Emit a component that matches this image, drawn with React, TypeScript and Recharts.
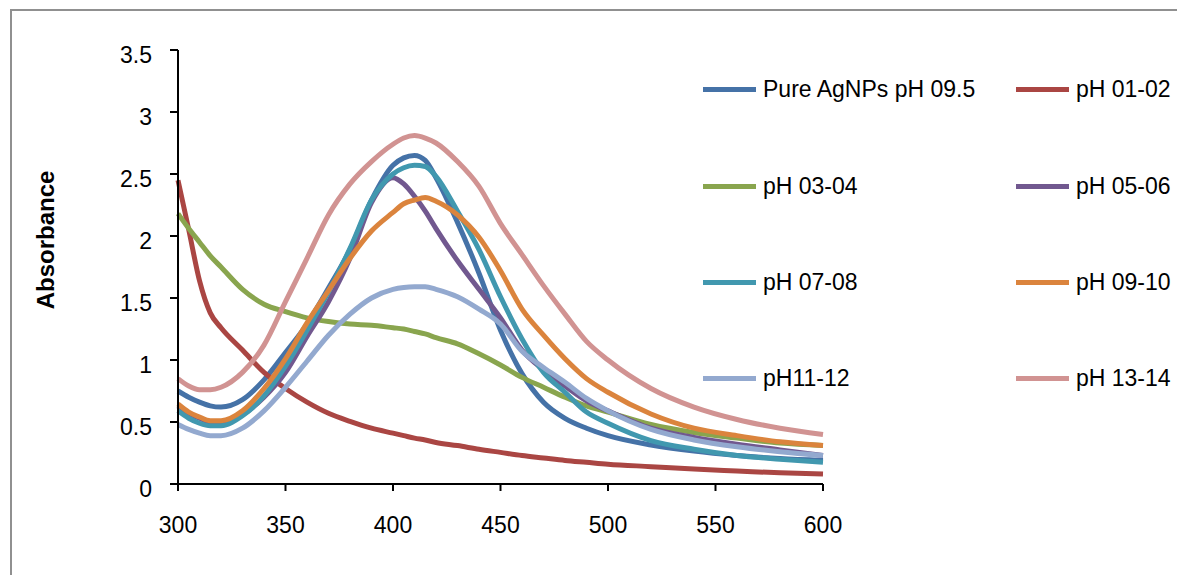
import { LineChart, Line, XAxis, YAxis } from 'recharts';

// wavelength (nm)
const wavelengths = [300, 305, 310, 315, 320, 330, 340, 350, 360, 370, 380, 390, 400, 405, 410, 415, 420, 430, 440, 450, 460, 470, 480, 490, 500, 520, 540, 560, 580, 600];

// absorbance
const pureAgNPs = [0.75, 0.70, 0.66, 0.63, 0.62, 0.68, 0.84, 1.06, 1.29, 1.58, 1.89, 2.29, 2.57, 2.63, 2.65, 2.61, 2.47, 2.11, 1.70, 1.24, 0.89, 0.66, 0.53, 0.45, 0.39, 0.315, 0.265, 0.23, 0.205, 0.19];
const pH0102 = [2.45, 2.05, 1.64, 1.38, 1.26, 1.08, 0.90, 0.77, 0.66, 0.57, 0.505, 0.45, 0.41, 0.39, 0.37, 0.355, 0.335, 0.31, 0.28, 0.255, 0.23, 0.21, 0.19, 0.175, 0.16, 0.14, 0.12, 0.105, 0.09, 0.08];
const pH0304 = [2.18, 2.06, 1.95, 1.84, 1.75, 1.57, 1.45, 1.39, 1.34, 1.31, 1.29, 1.28, 1.26, 1.25, 1.23, 1.21, 1.18, 1.13, 1.05, 0.96, 0.86, 0.78, 0.70, 0.63, 0.58, 0.48, 0.415, 0.37, 0.33, 0.31];
const pH0506 = [0.63, 0.57, 0.53, 0.50, 0.50, 0.56, 0.70, 0.90, 1.19, 1.47, 1.82, 2.27, 2.47, 2.42, 2.32, 2.20, 2.06, 1.80, 1.57, 1.34, 1.08, 0.92, 0.79, 0.67, 0.59, 0.45, 0.375, 0.32, 0.275, 0.23];
const pH0708 = [0.59, 0.53, 0.49, 0.47, 0.47, 0.55, 0.71, 0.95, 1.24, 1.55, 1.90, 2.29, 2.50, 2.55, 2.57, 2.56, 2.48, 2.20, 1.89, 1.51, 1.17, 0.90, 0.74, 0.58, 0.49, 0.35, 0.28, 0.23, 0.20, 0.175];
const pH0910 = [0.645, 0.58, 0.54, 0.51, 0.51, 0.59, 0.77, 1.01, 1.30, 1.56, 1.82, 2.04, 2.19, 2.26, 2.29, 2.31, 2.28, 2.17, 1.99, 1.72, 1.41, 1.20, 1.01, 0.85, 0.74, 0.565, 0.45, 0.39, 0.34, 0.31];
const pH1112 = [0.48, 0.44, 0.41, 0.39, 0.39, 0.45, 0.59, 0.78, 0.99, 1.20, 1.37, 1.50, 1.57, 1.585, 1.59, 1.59, 1.57, 1.51, 1.41, 1.29, 1.07, 0.94, 0.82, 0.69, 0.59, 0.44, 0.355, 0.30, 0.26, 0.23];
const pH1314 = [0.85, 0.79, 0.76, 0.76, 0.78, 0.90, 1.12, 1.47, 1.82, 2.17, 2.42, 2.60, 2.74, 2.79, 2.81, 2.79, 2.75, 2.60, 2.40, 2.10, 1.85, 1.60, 1.37, 1.15, 1.00, 0.77, 0.62, 0.52, 0.45, 0.40];

const xTicks = [300, 350, 400, 450, 500, 550, 600];
const yTicks = [0, 0.5, 1, 1.5, 2, 2.5, 3, 3.5];

const series = [
  { key: 'pure', name: 'Pure AgNPs pH 09.5', color: '#4572A7', values: pureAgNPs },
  { key: 'p0102', name: 'pH 01-02', color: '#AA4643', values: pH0102 },
  { key: 'p0304', name: 'pH 03-04', color: '#89A54E', values: pH0304 },
  { key: 'p0506', name: 'pH 05-06', color: '#71588F', values: pH0506 },
  { key: 'p0708', name: 'pH 07-08', color: '#4198AF', values: pH0708 },
  { key: 'p0910', name: 'pH 09-10', color: '#DB843D', values: pH0910 },
  { key: 'p1112', name: 'pH11-12', color: '#93A9CF', values: pH1112 },
  { key: 'p1314', name: 'pH 13-14', color: '#D19392', values: pH1314 },
];

const data = wavelengths.map((w, i) => {
  const row: Record<string, number> = { w };
  series.forEach(s => { row[s.key] = s.values[i]; });
  return row;
});

const font = '"Liberation Sans", Arial, sans-serif';
const legendCols = [703, 1016];
const legendRows = [89, 186, 282, 378];

export default function App() {
  return (
    <div style={{ position: 'absolute', left: 0, top: 0, width: 1177, height: 575, background: '#fff', overflow: 'hidden', fontFamily: font }}>
      <div style={{ position: 'absolute', left: 10, top: 9, width: 1300, height: 700, borderLeft: '2px solid #909090', borderTop: '2px solid #909090' }} />
      <LineChart width={1177} height={575} data={data} margin={{ top: 50, right: 354, bottom: 31, left: 0 }}>
        <XAxis
          dataKey="w"
          type="number"
          domain={[300, 600]}
          ticks={xTicks}
          height={60}
          stroke="#000"
          strokeWidth={2}
          tickSize={7}
          tickMargin={26}
          tick={{ fill: '#000', fontSize: 23, fontFamily: font }}
          tickLine={{ stroke: '#000', strokeWidth: 2 }}
        />
        <YAxis
          type="number"
          domain={[0, 3.5]}
          ticks={yTicks}
          width={178}
          stroke="#000"
          strokeWidth={2}
          tickSize={8}
          tickMargin={18}
          tick={{ fill: '#000', fontSize: 23, fontFamily: font, dy: 5 }}
          tickLine={{ stroke: '#000', strokeWidth: 2 }}
          label={{
            content: (props: any) => {
              const vb = props.viewBox || { x: 0, y: 50, height: 434 };
              const cx = vb.x + 45;
              const cy = vb.y + vb.height / 2 - 27;
              return (
                <text x={cx} y={cy} transform={`rotate(-90, ${cx}, ${cy})`} textAnchor="middle" dominantBaseline="central"
                  style={{ fontFamily: font, fontSize: 24, fontWeight: 'bold', fill: '#000' }}>
                  Absorbance
                </text>
              );
            },
          }}
        />
        {series.map(s => (
          <Line key={s.key} type="monotone" dataKey={s.key} name={s.name} stroke={s.color} strokeWidth={5} dot={false} isAnimationActive={false} />
        ))}
      </LineChart>
      {series.map((s, i) => (
        <div key={s.key} style={{ position: 'absolute', left: legendCols[i % 2], top: legendRows[Math.floor(i / 2)] - 15, height: 30, display: 'flex', alignItems: 'center', whiteSpace: 'nowrap' }}>
          <div style={{ width: 53, height: 5, background: s.color, marginRight: 7 }} />
          <span style={{ fontSize: 23, color: '#000', lineHeight: '30px' }}>{s.name}</span>
        </div>
      ))}
    </div>
  );
}
